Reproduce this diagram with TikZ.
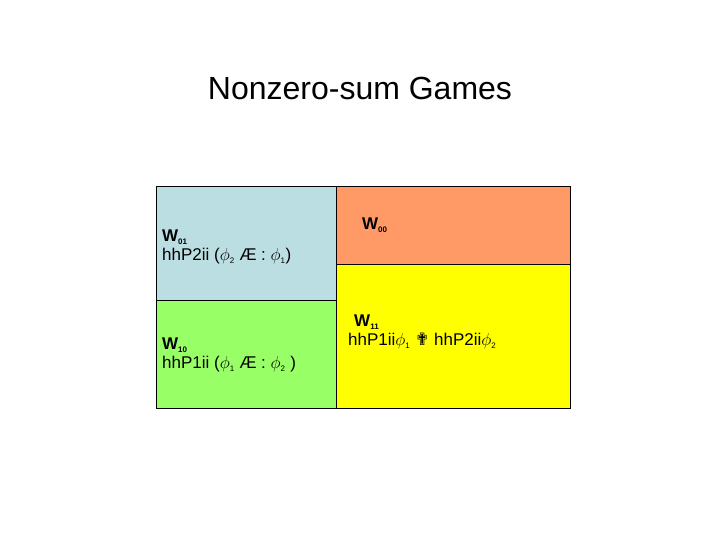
\documentclass[tikz,border=0pt]{standalone}
\usepackage{fontspec}
\setmainfont{Liberation Sans}
\newfontfamily\dejavu{DejaVu Sans}
\begin{document}
\begin{tikzpicture}[x=1pt,y=-1pt,
  cell/.style={draw=black,line width=0.6pt},
  lbl/.style={anchor=west,inner sep=0pt,align=left,font=\fontsize{17}{19}\selectfont}]
\useasboundingbox (0,0) rectangle (720,540);
\fill[white] (0,0) rectangle (720,540);
\node[font=\fontsize{32}{36}\selectfont] (title) at (360,88) {Nonzero-sum Games};
\path[cell,fill={rgb,255:red,186;green,222;blue,226}] (156,186) rectangle (336,300);
\path[cell,fill={rgb,255:red,153;green,255;blue,102}] (156,300) rectangle (336,408);
\path[cell,fill={rgb,255:red,255;green,153;blue,102}] (336,186) rectangle (570,264);
\path[cell,fill={rgb,255:red,255;green,255;blue,0}] (336,264) rectangle (570,408);
\node[lbl] (a) at (162,247) {\textbf{W\textsubscript{\footnotesize 01}}\\hhP2ii ($\phi$\textsubscript{\footnotesize 2} Æ : $\phi$\textsubscript{\footnotesize 1})};
\node[lbl] (b) at (162,355) {\textbf{W\textsubscript{\footnotesize 10}}\\hhP1ii ($\phi$\textsubscript{\footnotesize 1} Æ : $\phi$\textsubscript{\footnotesize 2} )};
\node[lbl] (c) at (362,225) {\textbf{W\textsubscript{\footnotesize 00}}};
\node[lbl] (d) at (348,332) {\hspace*{6pt}\textbf{W\textsubscript{\footnotesize 11}}\\hhP1ii$\phi$\textsubscript{\footnotesize 1} {\dejavu ✟} hhP2ii$\phi$\textsubscript{\footnotesize 2}};
\end{tikzpicture}
\end{document}
